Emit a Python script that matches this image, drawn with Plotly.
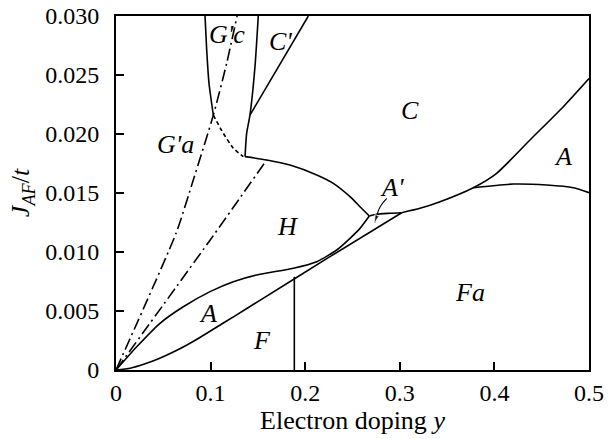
import plotly.graph_objects as go

# ---- data ----
dashdot1_x = [0, 0.0635, 0.0817, 0.1029, 0.117, 0.1280]
dashdot1_y = [0, 0.0116, 0.0161, 0.0216, 0.026, 0.030]
dashdot2_x = [0, 0.0994, 0.1593]
dashdot2_y = [0, 0.011, 0.0178]
gc_left_x = [0.0941, 0.0959, 0.0983, 0.1029]
gc_left_y = [0.030, 0.0271, 0.0243, 0.0216]
dashed_x = [0.1029, 0.1134, 0.124, 0.1346]
dashed_y = [0.0216, 0.02006, 0.0188, 0.01808]
cp_left_x = [0.1504, 0.1469, 0.1416, 0.1381, 0.1364]
cp_left_y = [0.030, 0.0257, 0.0216, 0.02006, 0.01808]
cp_right_x = [0.1416, 0.2033]
cp_right_y = [0.0216, 0.030]
h_top_x = [0.1364, 0.1593, 0.1839, 0.2122, 0.2297, 0.2474, 0.2579, 0.2678]
h_top_y = [0.01808, 0.0178, 0.01737, 0.01653, 0.01582, 0.01469, 0.01384, 0.01305]
a_upper_x = [0, 0.0219, 0.0465, 0.0711, 0.0994, 0.124, 0.1487, 0.1874, 0.2122, 0.2333, 0.2474, 0.2579, 0.2678]
a_upper_y = [0, 0.00197, 0.00396, 0.00536, 0.00664, 0.00748, 0.00805, 0.00862, 0.00918, 0.01017, 0.01116, 0.0120, 0.01305]
f_top_x = [0, 0.015, 0.03, 0.045, 0.06, 0.075, 0.09, 0.105, 0.125, 0.15, 0.2253, 0.302]
f_top_y = [0, 0.00015, 0.0005, 0.00095, 0.00150, 0.00212, 0.00282, 0.00356, 0.00455, 0.00580, 0.00956, 0.01333]
c_bottom_x = [0.302, 0.3214, 0.3425, 0.3777, 0.4024, 0.4376, 0.4728, 0.5]
c_bottom_y = [0.01333, 0.0137, 0.01426, 0.01545, 0.01667, 0.01949, 0.02231, 0.0247]
ap_top_x = [0.2678, 0.2756, 0.2896, 0.302]
ap_top_y = [0.01305, 0.0132, 0.01328, 0.01333]
a_right_lower_x = [0.3777, 0.42, 0.4553, 0.4834, 0.5]
a_right_lower_y = [0.01545, 0.01576, 0.01568, 0.01545, 0.01503]
f_fa_x = [0.1885, 0.1885]
f_fa_y = [0, 0.0079]
ap_arrow_x = [0.2862, 0.2790, 0.2735]
ap_arrow_y = [0.01455, 0.01380, 0.01250]

region_labels = ["G'c", "C'", "C", "G'a", "A", "A'", "H", "Fa", "A", "F"]
region_x = [0.117, 0.1734, 0.311, 0.0624, 0.4725, 0.2918, 0.1808, 0.374, 0.0973, 0.1543]
region_y = [0.0284, 0.0278, 0.0220, 0.0191, 0.0181, 0.0155, 0.0122, 0.0066, 0.00475, 0.00254]

x_ticks = [0, 0.1, 0.2, 0.3, 0.4, 0.5]
x_ticktext = ["0", "0.1", "0.2", "0.3", "0.4", "0.5"]
y_ticks = [0, 0.005, 0.010, 0.015, 0.020, 0.025, 0.030]
y_ticktext = ["0", "0.005", "0.010", "0.015", "0.020", "0.025", "0.030"]

FONT = "Liberation Serif, Times New Roman, Tinos, serif"
fig = go.Figure()

def add(x, y, dash="solid", shape="spline", sm=0.6):
    fig.add_trace(go.Scatter(x=x, y=y, mode="lines",
                             line=dict(color="black", width=1.6, dash=dash, shape=shape, smoothing=sm),
                             showlegend=False, hoverinfo="skip"))

DD = "12px,4px,2px,4px"
add(dashdot1_x, dashdot1_y, DD)
add(dashdot2_x, dashdot2_y, DD)
add(gc_left_x, gc_left_y)
add(dashed_x, dashed_y, "4px,3px")
add(cp_left_x, cp_left_y)
add(cp_right_x, cp_right_y, shape="linear")
add(h_top_x, h_top_y)
add(a_upper_x, a_upper_y)
add(f_top_x, f_top_y)
add(c_bottom_x, c_bottom_y)
add(ap_top_x, ap_top_y)
add(a_right_lower_x, a_right_lower_y)
add(f_fa_x, f_fa_y, shape="linear")

# curved arrow pointing into A'
fig.add_trace(go.Scatter(x=ap_arrow_x, y=ap_arrow_y, mode="lines+markers",
                         line=dict(color="black", width=1.1, shape="spline"),
                         marker=dict(symbol="arrow", size=[0, 0, 8], angleref="previous", color="black"),
                         showlegend=False, hoverinfo="skip"))

for t, x, y in zip(region_labels, region_x, region_y):
    fig.add_annotation(x=x, y=y, text="<i>%s</i>" % t, showarrow=False,
                       font=dict(family=FONT, size=26, color="black"))

axis_common = dict(showgrid=False, zeroline=False, showline=True, linecolor="black",
                   linewidth=2, mirror=True, ticks="inside", ticklen=8, tickwidth=1.5,
                   tickcolor="black", automargin=False,
                   tickfont=dict(family=FONT, size=24, color="black"))

fig.update_xaxes(range=[0, 0.5], tickvals=x_ticks, ticktext=x_ticktext,
                 title=dict(text="Electron doping <i>y</i>", font=dict(family=FONT, size=26, color="black"), standoff=2),
                 **axis_common)
fig.update_yaxes(range=[0, 0.030], tickvals=y_ticks, ticktext=y_ticktext, ticklabelstandoff=10,
                 title=dict(text="<i>J<sub>AF</sub></i>/<i>t</i>", font=dict(family=FONT, size=26, color="black"), standoff=8),
                 **axis_common)

fig.update_layout(width=608, height=439, paper_bgcolor="white", plot_bgcolor="white",
                  margin=dict(l=116, r=19, t=16, b=69))

fig.write_html("out.html", config={"displayModeBar": False},
               post_script="document.body.style.margin='0';")
